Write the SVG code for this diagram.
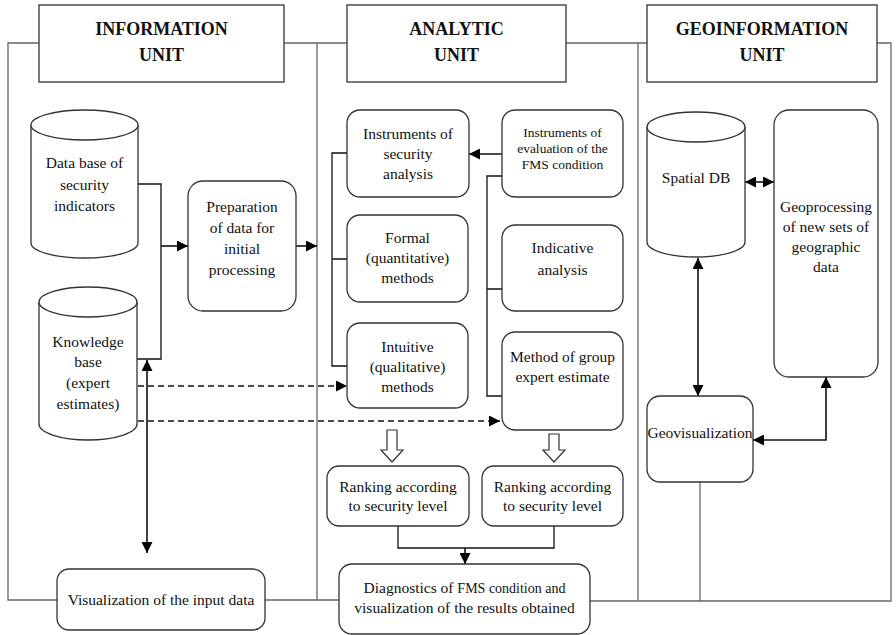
<svg xmlns="http://www.w3.org/2000/svg" width="896" height="635" viewBox="0 0 896 635">
<defs>
<style>
.frame{fill:none;stroke:#666;stroke-width:1.3}
.box{fill:#fff;stroke:#333;stroke-width:1.3}
.ln{fill:none;stroke:#111;stroke-width:1.3}
.ar{fill:none;stroke:#111;stroke-width:1.6}
.dash{fill:none;stroke:#111;stroke-width:1.6;stroke-dasharray:6 4}
.hol{fill:#fff;stroke:#333;stroke-width:1.2}
.t{font-family:"Liberation Serif","Times New Roman",serif;font-size:15.5px;text-anchor:middle;fill:#111}
.h{font-weight:bold;font-size:18px}
.s{font-size:13.5px}
</style>
<marker id="a" viewBox="0 0 10 10" refX="10" refY="5" markerWidth="11" markerHeight="11" markerUnits="userSpaceOnUse" orient="auto-start-reverse">
<path d="M0,0 L10,5 L0,10 z" fill="#000"/>
</marker>
</defs>

<g id="frames">
<path class="frame" d="M39,43 H8 V600 H57"/>
<path class="frame" d="M284,43 H347"/>
<path class="frame" d="M317,43 V600"/>
<path class="frame" d="M265,600 H339"/>
<path class="frame" d="M566,43 H647"/>
<path class="frame" d="M638,43 V600"/>
<path class="frame" d="M877,43 H891 V601 H590"/>
<path class="frame" d="M700,482 V601"/>
</g>

<g id="head-info"><rect class="box" x="39" y="5" width="245" height="77"/>
<text class="t h" x="161.5" y="35">INFORMATION</text><text class="t h" x="161.5" y="61">UNIT</text></g>
<g id="head-analytic"><rect class="box" x="347" y="5" width="219" height="77"/>
<text class="t h" x="456.5" y="35">ANALYTIC</text><text class="t h" x="456.5" y="61">UNIT</text></g>
<g id="head-geo"><rect class="box" x="647" y="5" width="230" height="77"/>
<text class="t h" x="762" y="35">GEOINFORMATION</text><text class="t h" x="762" y="61">UNIT</text></g>

<g id="connectors">
<path class="ln" d="M138,184 H161 V359 H137"/>
<path class="ar" d="M161,246 H188" marker-end="url(#a)"/>
<path class="ar" d="M296,246 H317" marker-end="url(#a)"/>
<path class="ln" d="M347,153 H332 V366 H347 M332,259 H347"/>
<path class="ln" d="M502,176 H487 V396 H502 M487,289 H502"/>
<path class="ar" d="M502,154 H469" marker-end="url(#a)"/>
<path class="dash" d="M138,386 H347" marker-end="url(#a)"/>
<path class="dash" d="M138,421 H500" marker-end="url(#a)"/>
<path class="ar" d="M147,360 V553" marker-start="url(#a)" marker-end="url(#a)"/>
<polygon class="hol" points="387,430 397,430 397,450 403,450 392,462 381,450 387,450"/>
<polygon class="hol" points="549,434 559,434 559,450 565,450 554,462 543,450 549,450"/>
<path class="ln" d="M398,526 V548 H554 V526"/>
<path class="ar" d="M465,548 V564" marker-end="url(#a)"/>
<path class="ar" d="M745,182 H774" marker-start="url(#a)" marker-end="url(#a)"/>
<path class="ar" d="M698,258 V396" marker-start="url(#a)" marker-end="url(#a)"/>
<path class="ar" d="M826,377 V440 H753" marker-start="url(#a)" marker-end="url(#a)"/>
</g>

<g id="db-security">
<path class="box" d="M31,125 A53.5,15 0 0 1 138,125 V243 A53.5,15 0 0 1 31,243 Z"/>
<path class="box" d="M31,125 A53.5,15 0 0 0 138,125"/>
<text class="t" x="84.5" y="168">Data base of</text><text class="t" x="84.5" y="190">security</text><text class="t" x="84.5" y="211">indicators</text>
</g>
<g id="db-knowledge">
<path class="box" d="M39,302 A49,15 0 0 1 137,302 V424 A49,16 0 0 1 39,424 Z"/>
<path class="box" d="M39,302 A49,15 0 0 0 137,302"/>
<text class="t" x="88" y="347">Knowledge</text><text class="t" x="88" y="367">base</text><text class="t" x="88" y="388">(expert</text><text class="t" x="88" y="409">estimates)</text>
</g>
<g id="preparation"><rect class="box" x="188" y="181" width="108" height="130" rx="15"/>
<text class="t" x="242" y="212">Preparation</text><text class="t" x="242" y="233">of data for</text><text class="t" x="242" y="254">initial</text><text class="t" x="242" y="275">processing</text></g>
<g id="visualization-input"><rect class="box" x="57" y="569" width="208" height="61" rx="12"/>
<text class="t" x="161" y="605">Visualization of the input data</text></g>

<g id="instr-security"><rect class="box" x="347" y="110" width="122" height="87" rx="13"/>
<text class="t" x="408" y="139">Instruments of</text><text class="t" x="408" y="159">security</text><text class="t" x="408" y="179">analysis</text></g>
<g id="formal"><rect class="box" x="347" y="215" width="121" height="87" rx="13"/>
<text class="t" x="407.5" y="243">Formal</text><text class="t" x="407.5" y="263">(quantitative)</text><text class="t" x="407.5" y="283">methods</text></g>
<g id="intuitive"><rect class="box" x="347" y="323" width="121" height="85" rx="13"/>
<text class="t" x="407.5" y="352">Intuitive</text><text class="t" x="407.5" y="372">(qualitative)</text><text class="t" x="407.5" y="392">methods</text></g>
<g id="instr-eval"><rect class="box" x="502" y="110" width="121" height="87" rx="13"/>
<text class="t s" x="562.5" y="137">Instruments of</text><text class="t s" x="562.5" y="153">evaluation of the</text><text class="t s" x="562.5" y="169">FMS condition</text></g>
<g id="indicative"><rect class="box" x="502" y="225" width="121" height="86" rx="13"/>
<text class="t" x="562.5" y="253">Indicative</text><text class="t" x="562.5" y="275">analysis</text></g>
<g id="group-expert"><rect class="box" x="502" y="332" width="121" height="98" rx="13"/>
<text class="t" x="562.5" y="362">Method of group</text><text class="t" x="562.5" y="382">expert estimate</text></g>
<g id="ranking-1"><rect class="box" x="327" y="466" width="142" height="60" rx="12"/>
<text class="t" x="398" y="492">Ranking according</text><text class="t" x="398" y="511">to security level</text></g>
<g id="ranking-2"><rect class="box" x="482" y="466" width="141" height="60" rx="12"/>
<text class="t" x="552.5" y="492">Ranking according</text><text class="t" x="552.5" y="511">to security level</text></g>
<g id="diagnostics"><rect class="box" x="339" y="564" width="251" height="70" rx="13"/>
<text class="t" x="464.5" y="593">Diagnostics of <tspan font-size="14">FMS condition and</tspan></text><text class="t" x="464.5" y="613">visualization  of the results obtained</text></g>

<g id="spatial-db">
<path class="box" d="M647,127 A49,15 0 0 1 745,127 V242 A49,15 0 0 1 647,242 Z"/>
<path class="box" d="M647,127 A49,15 0 0 0 745,127"/>
<text class="t" x="696" y="183">Spatial DB</text>
</g>
<g id="geoprocessing"><rect class="box" x="774" y="110" width="104" height="267" rx="15"/>
<text class="t" x="826" y="212">Geoprocessing</text><text class="t" x="826" y="232">of new sets of</text><text class="t" x="826" y="252">geographic</text><text class="t" x="826" y="272">data</text></g>
<g id="geovisualization"><rect class="box" x="647" y="396" width="106" height="86" rx="13"/>
<text class="t" x="700" y="438">Geovisualization</text></g>
</svg>
